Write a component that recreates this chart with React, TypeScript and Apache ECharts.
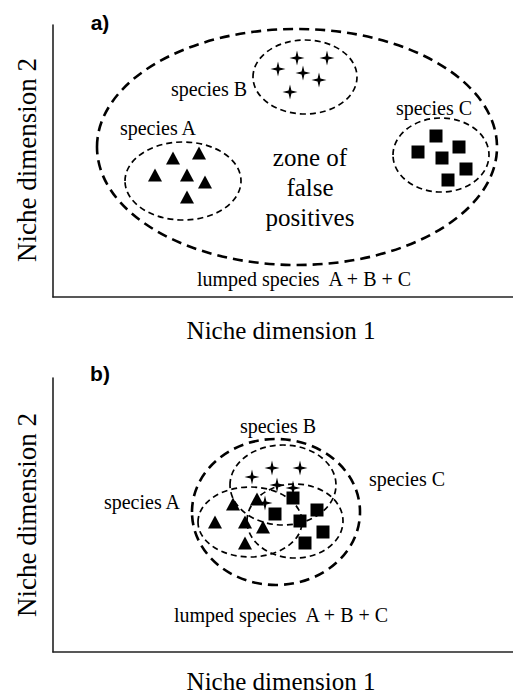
import React, { useEffect, useRef } from "react";
import * as echarts from "echarts";

// Panel a) — separated species (x, y in niche units)
const aSpeciesA: [number, number][] = [[120, 139], [146, 144], [102, 122], [134, 122], [152, 115], [134, 100]];
const aSpeciesB: [number, number][] = [[244, 239], [274, 239], [225, 228], [250, 224], [266, 217], [237, 205]];
const aSpeciesC: [number, number][] = [[383, 161], [406, 150], [365, 145], [389, 139], [413, 128], [395, 117]];
// ellipses: cx, cy, rx, ry, kind (1 = lumped, 0 = species)
const aEllipses: number[][] = [[244, 150, 200, 118, 1], [130, 116, 58, 39, 0], [252, 220, 52, 37, 0], [388, 142, 48, 37, 0]];

// Panel b) — overlapping species
const bSpeciesA: [number, number][] = [[162, 130], [180, 148], [192, 130], [204, 153], [210, 125], [192, 109]];
const bSpeciesB: [number, number][] = [[199, 175], [219, 184], [247, 184], [224, 167], [240, 164], [212, 149]];
const bSpeciesC: [number, number][] = [[240, 154], [222, 138], [247, 131], [264, 142], [270, 120], [252, 109]];
const bEllipses: number[][] = [[223, 140, 84, 73, 1], [197, 130, 52, 35, 0], [230, 167, 53, 40, 0], [242, 131, 48, 37, 0]];

const xAxisTitle = "Niche dimension 1";
const yAxisTitle = "Niche dimension 2";
const lumpedLabel = "lumped species  A + B + C";

const STAR = "path://M0,-10 L1.9,-1.9 L10,0 L1.9,1.9 L0,10 L-1.9,1.9 L-10,0 L-1.9,-1.9 Z";
const SERIF = "Liberation Serif";
const SANS = "Liberation Sans";

function ellipseSeries(data: number[][], idx: number) {
  return {
    type: "custom",
    xAxisIndex: idx,
    yAxisIndex: idx,
    data,
    silent: true,
    z: 1,
    renderItem: (_p: any, api: any) => {
      const c = api.coord([api.value(0), api.value(1)]);
      const s = api.size([api.value(2), api.value(3)]);
      const big = api.value(4) === 1;
      return {
        type: "ellipse",
        shape: { cx: c[0], cy: c[1], rx: s[0], ry: s[1] },
        style: {
          fill: "none",
          stroke: "#000",
          lineWidth: big ? 2.6 : 1.7,
          lineDash: big ? [10, 6] : [6, 4],
        },
      };
    },
  };
}

function markerSeries(data: [number, number][], idx: number, symbol: string, size: any) {
  return {
    type: "scatter",
    xAxisIndex: idx,
    yAxisIndex: idx,
    data,
    symbol,
    symbolSize: size,
    itemStyle: { color: "#000", opacity: 1 },
    z: 3,
  };
}

function txt(text: string, x: number, y: number, size: number, extra: any = {}) {
  return {
    type: "text",
    x,
    y,
    style: {
      text,
      fontFamily: SERIF,
      fontSize: size,
      fill: "#000",
      textAlign: "center",
      textVerticalAlign: "middle",
      ...extra,
    },
  };
}

export default function App() {
  const ref = useRef<HTMLDivElement>(null);
  useEffect(() => {
    if (!ref.current) return;
    const chart = echarts.init(ref.current, null, { renderer: "svg" });
    const axisBase = {
      type: "value",
      axisLine: { show: true, onZero: false, lineStyle: { color: "#222", width: 1.6 } },
      axisTick: { show: false },
      axisLabel: { show: false },
      splitLine: { show: false },
    };
    chart.setOption({
      animation: false,
      backgroundColor: "#fff",
      grid: [
        { left: 53, top: 25, width: 460, height: 272 },
        { left: 53, top: 378, width: 460, height: 274 },
      ],
      xAxis: [
        { ...axisBase, gridIndex: 0, min: 0, max: 460 },
        { ...axisBase, gridIndex: 1, min: 0, max: 460 },
      ],
      yAxis: [
        { ...axisBase, gridIndex: 0, min: 0, max: 272 },
        { ...axisBase, gridIndex: 1, min: 0, max: 274 },
      ],
      series: [
        ellipseSeries(aEllipses, 0),
        markerSeries(aSpeciesA, 0, "triangle", [14, 13]),
        markerSeries(aSpeciesB, 0, STAR, 15),
        markerSeries(aSpeciesC, 0, "rect", 13),
        ellipseSeries(bEllipses, 1),
        markerSeries(bSpeciesA, 1, "triangle", [14, 13]),
        markerSeries(bSpeciesB, 1, STAR, 15),
        markerSeries(bSpeciesC, 1, "rect", 13),
      ],
      graphic: [
        txt("a)", 100, 22, 21, { fontFamily: SANS, fontWeight: "bold" }),
        txt("b)", 100, 373, 21, { fontFamily: SANS, fontWeight: "bold" }),
        { type: "text", x: 27, y: 160, rotation: Math.PI / 2, style: { text: yAxisTitle, fontFamily: SERIF, fontSize: 27, fill: "#000", textAlign: "center", textVerticalAlign: "middle" } },
        { type: "text", x: 27, y: 515, rotation: Math.PI / 2, style: { text: yAxisTitle, fontFamily: SERIF, fontSize: 27, fill: "#000", textAlign: "center", textVerticalAlign: "middle" } },
        txt(xAxisTitle, 281, 330, 25),
        txt(xAxisTitle, 281, 681, 25),
        txt("species A", 158, 128, 20),
        txt("species B", 209, 89, 20),
        txt("species C", 434, 108, 20),
        txt("zone of\nfalse\npositives", 310, 187, 25, { lineHeight: 30 }),
        txt(lumpedLabel, 304, 279, 20),
        txt("species B", 278, 426, 20),
        txt("species C", 407, 479, 20),
        txt("species A", 142, 502, 20),
        txt(lumpedLabel, 281, 615, 20),
      ],
    });
    return () => chart.dispose();
  }, []);
  return <div ref={ref} style={{ width: 513, height: 695, position: "absolute", left: 0, top: 0 }} />;
}
